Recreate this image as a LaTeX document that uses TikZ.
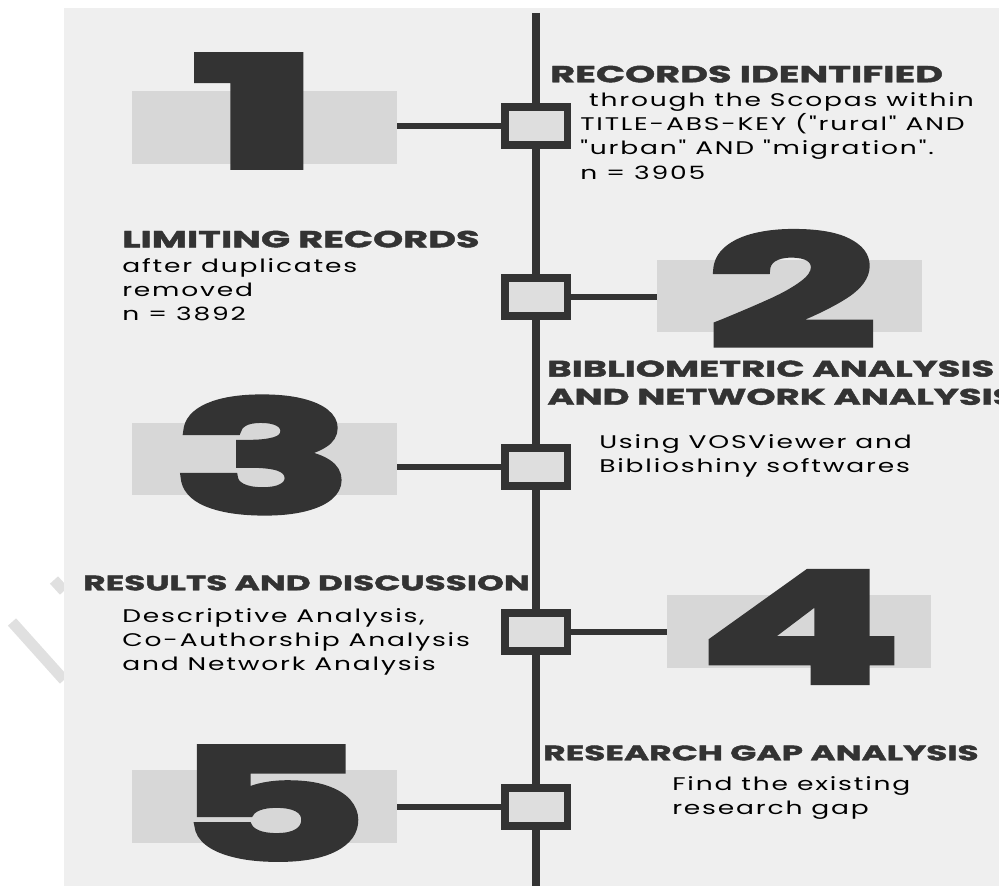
\documentclass[tikz,border=0pt]{standalone}
\usepackage{graphicx}
\usepackage{fontspec}
\setmainfont{Poppins}
\newfontfamily\digitfont[FakeBold=4.5,FakeStretch=2.0]{Poppins}
\newfontfamily\headfont[FakeBold=2,FakeStretch=1.65]{Poppins}
\newfontfamily\bodyfont[FakeStretch=1.45,LetterSpace=10]{Poppins}
\definecolor{panelgrey}{HTML}{EFEFEF}
\definecolor{bargrey}{HTML}{D7D7D7}
\definecolor{boxgrey}{HTML}{DEDEDE}
\definecolor{inkgrey}{HTML}{333333}
\definecolor{markgrey}{HTML}{E0E0E0}
\begin{document}
\begin{tikzpicture}[x=0.025cm, y=-0.025cm,
		stepbox/.style={draw=inkgrey, fill=boxgrey, line width=5pt, shape=rectangle, minimum width=1.55cm, minimum height=0.95cm, inner sep=0pt},
		numbar/.style={fill=bargrey, shape=rectangle, minimum width=6.6cm, minimum height=1.8cm, inner sep=0pt},
		numeral/.style={text=inkgrey, inner sep=0pt, font=\digitfont\bfseries\fontsize{108}{108}\selectfont},
		heading/.style={text=inkgrey, inner sep=0pt, anchor=north west, align=left, execute at begin node=\strut, font=\headfont\bfseries\fontsize{#1}{20}\selectfont},
		body/.style={text=black, inner sep=0pt, anchor=north west, align=left, execute at begin node=\strut, font=\bodyfont\fontsize{13}{17.3}\selectfont},
		link/.style={draw=inkgrey, line width=3.6pt}]
	\useasboundingbox (0,0) rectangle (999,886);

	% faint marks left of the sheet
	\draw[markgrey, line width=7.8pt] (12,622) -- (64,680);
	\draw[markgrey, line width=7.8pt] (54,580) -- (64,591);

	% sheet and spine
	\fill[panelgrey] (64,8) rectangle (999,886);
	\coordinate (spinetop) at (536,13);
	\coordinate (spinebot) at (536,886);
	\draw[inkgrey, line width=5.7pt] (spinetop) -- (spinebot);

	% big numbers
	\node[numbar] (b_1) at (264.5,127.5) {};
	\node[numbar] (b_2) at (789.5,296) {};
	\node[numbar] (b_3) at (264.5,459) {};
	\node[numbar] (b_4) at (799,631.5) {};
	\node[numbar] (b_5) at (264.5,806.5) {};

	\node[numeral] (n_1) at (257,111) {\scalebox{1.2}[1]{1}};
	\node[numeral] (n_2) at (792,289) {2};
	\node[numeral] (n_3) at (263,455) {3};
	\node[numeral] (n_4) at (800,627) {4};
	\node[numeral] (n_5) at (271,803) {5};

	% steps on the spine
	\node[stepbox] (s_1) at (536,126) {};
	\node[stepbox] (s_2) at (536,297) {};
	\node[stepbox] (s_3) at (536,467) {};
	\node[stepbox] (s_4) at (536,632) {};
	\node[stepbox] (s_5) at (536,807) {};

	\draw[link] (s_1.west) -- (s_1.west -| b_1.east);
	\draw[link] (s_2.east) -- (s_2.east -| b_2.west);
	\draw[link] (s_3.west) -- (s_3.west -| b_3.east);
	\draw[link] (s_4.east) -- (s_4.east -| b_4.west);
	\draw[link] (s_5.west) -- (s_5.west -| b_5.east);

	% texts
	\node[heading=16.5] (h_1) at (550,62.3) {RECORDS IDENTIFIED};
	\node[body] (t_1) at (580,92) {\ through the Scopas within\\TITLE-ABS-KEY ("rural" AND\\"urban" AND "migration".\\n = 3905};

	\node[heading=16.5] (h_2) at (122,227.3) {LIMITING RECORDS};
	\node[body] (t_2) at (122,258) {after duplicates\\removed\\n = 3892};

	\node[heading=16] (h_3) at (547,360.3) {BIBLIOMETRIC ANALYSIS\\AND NETWORK ANALYSIS};
	\node[body] (t_3) at (599,434) {Using VOSViewer and\\Biblioshiny softwares};

	\node[heading=14.8] (h_4) at (83,570.3) {RESULTS AND DISCUSSION};
	\node[body] (t_4) at (122,608) {Descriptive Analysis,\\Co-Authorship Analysis\\and Network Analysis};

	\node[heading=14.8] (h_5) at (543,740.3) {RESEARCH GAP ANALYSIS};
	\node[body] (t_5) at (672,776) {Find the existing\\research gap};
\end{tikzpicture}
\end{document}
